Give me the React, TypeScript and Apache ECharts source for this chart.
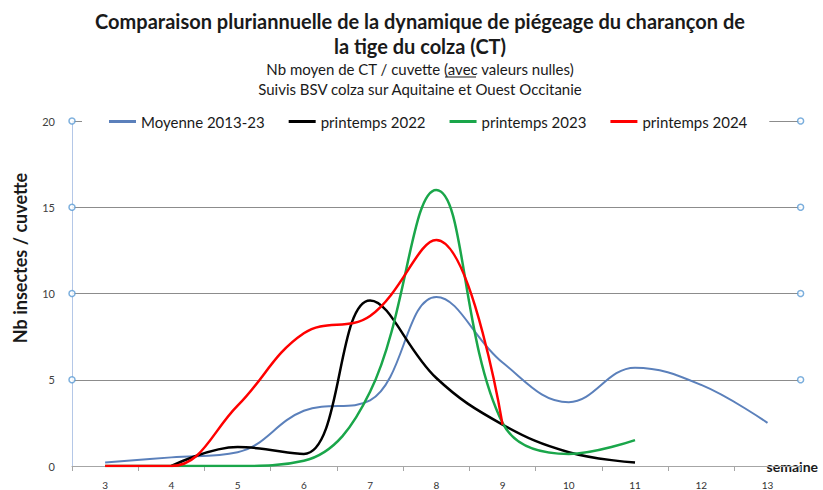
import React, { useEffect, useRef } from "react";
import * as echarts from "echarts";

const weeks = ["3", "4", "5", "6", "7", "8", "9", "10", "11", "12", "13"];
const moyenne = [0.2, 0.5, 0.8, 3.2, 3.8, 9.8, 6.0, 3.7, 5.7, 4.7, 2.5];
const p2022 = [null, 0, 1.1, 0.7, 9.6, 5.1, 2.4, 0.8, 0.2, null, null];
const p2023 = [0, 0, 0, 0.3, 4.3, 16.0, 2.5, 0.7, 1.5, null, null];
const p2024 = [0, 0, 3.5, 7.7, 8.7, 13.1, 2.4, null, null, null, null];
const yTicksWithMarker = [5, 10, 15, 20];

const FONT = "Lato";

export default function App() {
  const ref = useRef<HTMLDivElement>(null);
  useEffect(() => {
    if (!ref.current) return;
    const chart = echarts.init(ref.current, null, { renderer: "svg" });
    const markerData: number[][] = [];
    yTicksWithMarker.forEach((v) => {
      markerData.push([0, v]);
      markerData.push([1, v]);
    });
    const mkLine = (name: string, data: (number | null)[], color: string, width: number) => ({
      name,
      type: "line",
      data,
      smooth: 0.4,
      symbol: "none",
      connectNulls: false,
      lineStyle: { color, width },
      itemStyle: { color },
      z: 3,
    });
    chart.setOption({
      animation: false,
      textStyle: { fontFamily: FONT },
      title: [
        {
          text: "Comparaison pluriannuelle de la dynamique de piégeage du charançon de\nla tige du colza (CT)",
          left: 420,
          top: 8,
          padding: 0,
          textAlign: "center",
          textStyle: { fontFamily: FONT, fontSize: 20, fontWeight: "bold", color: "#1a1a1a", lineHeight: 25 },
        },
        {
          text: "Nb moyen de CT / cuvette (avec valeurs nulles)\nSuivis BSV colza sur Aquitaine et Ouest Occitanie",
          left: 420,
          top: 59,
          padding: 0,
          textAlign: "center",
          textStyle: {
            fontFamily: FONT,
            fontSize: 15,
            fontWeight: "normal",
            color: "#1a1a1a",
            lineHeight: 20,
          },
        },
      ],
      graphic: [
        {
          type: "text",
          x: 20,
          y: 258,
          rotation: Math.PI / 2,
          style: {
            text: "Nb insectes / cuvette",
            fontFamily: FONT,
            fontSize: 18,
            fontWeight: "bold",
            fill: "#1a1a1a",
            align: "center",
            verticalAlign: "middle",
          },
        },
        {
          type: "line",
          shape: { x1: 445, y1: 77, x2: 476, y2: 77 },
          style: { stroke: "#1a1a1a", lineWidth: 1 },
        },
      ],
      legend: {
        data: ["Moyenne 2013-23", "printemps 2022", "printemps 2023", "printemps 2024"],
        left: 82,
        top: 110,
        padding: [4, 22, 4, 27],
        backgroundColor: "#ffffff",
        itemGap: 24,
        itemWidth: 27,
        itemHeight: 3,
        icon: "rect",
        textStyle: { fontFamily: FONT, fontSize: 15, color: "#1a1a1a" },
      },
      grid: { left: 72, right: 21, top: 121, bottom: 22, containLabel: false },
      xAxis: [
        {
          type: "category",
          data: weeks,
          boundaryGap: true,
          name: "semaine",
          nameLocation: "end",
          nameGap: -41,
          nameTextStyle: {
            fontFamily: FONT,
            fontSize: 14,
            fontWeight: "bold",
            color: "#1a1a1a",
            backgroundColor: "#ffffff",
            padding: [0, 2, 12, 7],
            verticalAlign: "middle",
            align: "left",
          },
          axisLine: { lineStyle: { color: "#a6a6a6", width: 1 } },
          axisTick: { show: true, length: 5, lineStyle: { color: "#a6a6a6" } },
          axisLabel: { fontFamily: FONT, fontSize: 10, color: "#333333", margin: 14 },
          splitLine: { show: false },
        },
        { type: "value", min: 0, max: 1, show: false },
      ],
      yAxis: {
        type: "value",
        min: 0,
        max: 20,
        interval: 5,
        axisLine: { show: true, lineStyle: { color: "#b4c7e7", width: 1 } },
        axisTick: { show: false },
        axisLabel: { fontFamily: FONT, fontSize: 11, color: "#404040", margin: 17 },
        splitLine: { show: true, lineStyle: { color: "#8c8c8c", width: 1 } },
      },
      series: [
        mkLine("Moyenne 2013-23", moyenne, "#5b80bb", 2),
        mkLine("printemps 2022", p2022, "#000000", 2.5),
        mkLine("printemps 2023", p2023, "#1aa64a", 2.5),
        mkLine("printemps 2024", p2024, "#ff0000", 2.5),
        {
          name: "markers",
          type: "scatter",
          xAxisIndex: 1,
          data: markerData,
          symbol: "circle",
          symbolSize: 6,
          clip: false,
          itemStyle: { color: "#ffffff", borderColor: "#5b9bd5", borderWidth: 1.5 },
          z: 10,
          silent: true,
        },
      ],
    });
    return () => chart.dispose();
  }, []);
  return <div ref={ref} style={{ width: 823, height: 490, position: "absolute", left: 0, top: 0 }} />;
}
